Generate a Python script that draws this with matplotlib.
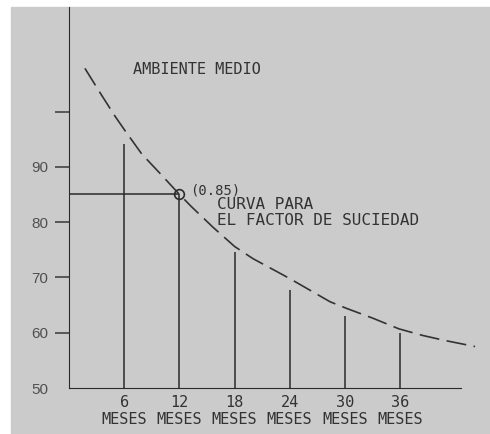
import matplotlib.pyplot as plt
from matplotlib.patches import Rectangle

# Values
months = [6, 12, 18, 24, 30, 36]
month_labels = ['6\nMESES', '12\nMESES', '18\nMESES', '24\nMESES', '30\nMESES', '36\nMESES']
bar_tops = [94.2, 85.0, 74.6, 67.7, 63.0, 60.0]

curve_x = [1.7, 3.5, 5.0, 6.0, 7.9, 10.0, 12.0, 13.3, 15.7, 18.0, 20.0,
           22.0, 24.0, 26.2, 28.4, 30.2, 33.1, 35.9, 38.5, 40.9, 44.2]
curve_y = [107.8, 103.0, 99.1, 96.7, 92.3, 88.6, 85.0, 82.8, 79.0, 75.6, 73.4,
           71.6, 69.8, 67.7, 65.6, 64.4, 62.6, 60.7, 59.5, 58.6, 57.5]

y_ticks = [50, 60, 70, 80, 90, 100]
y_labels = ['50', '60', '70', '80', '90', '']

mark_x, mark_y = 12, 85

mono = 'DejaVu Sans Mono'
ink = '#2a2a2a'

fig = plt.figure(figsize=(4.9, 4.34), dpi=100, facecolor='white')
# grey sheet behind the drawing
fig.patches.append(Rectangle((11 / 490, 0), 479 / 490, 427 / 434,
                             transform=fig.transFigure, color='#cbcbcb', zorder=-10))

ax = fig.add_axes([69.3 / 490, 46 / 434, 417.2 / 490, 381 / 434])
ax.set_facecolor('none')
ax.set_xlim(0, 417.2 / 9.18)
ax.set_ylim(50, 50 + 381 / 5.53)

# vertical lines for each month
ax.vlines(months, 50, bar_tops, color=ink, lw=1.1)
# horizontal guide to the marked point
ax.hlines(mark_y, 0, mark_x, color=ink, lw=1.1)
ax.plot([mark_x], [mark_y], 'o', ms=7, mfc='none', mec=ink, mew=1.2)

# dashed curve
ax.plot(curve_x, curve_y, color='#333333', lw=1.2, dashes=[12, 4.5], clip_on=False)

# axes styling
for s in ['top', 'right']:
    ax.spines[s].set_visible(False)
ax.spines['left'].set_color(ink)
ax.spines['bottom'].set_color(ink)
ax.spines['bottom'].set_bounds(0, (461 - 69.3) / 9.18)

ax.set_yticks(y_ticks)
ax.set_yticklabels(y_labels, fontsize=11, color='#505050', family='Liberation Sans')
ax.tick_params(axis='y', length=10, width=1.2, color='#444444', pad=5)
ax.yaxis.get_major_ticks()[0].tick1line.set_visible(False)

ax.set_xticks(months)
ax.set_xticklabels(month_labels, fontsize=11, family=mono, color='#333333', linespacing=1.15)
ax.tick_params(axis='x', length=0, pad=5)

# annotations
ax.text(6.9, 107.6, 'AMBIENTE MEDIO', fontsize=11, family=mono, color='#333333', va='center')
ax.text(13.2, 85.7, '(0.85)', fontsize=10, family=mono, color='#333333', va='center')
ax.text(16.1, 83.2, 'CURVA PARA', fontsize=11.5, family=mono, color='#333333', va='center')
ax.text(16.1, 80.2, 'EL FACTOR DE SUCIEDAD', fontsize=11.5, family=mono, color='#333333', va='center')

fig.savefig('out.png', dpi=100)
